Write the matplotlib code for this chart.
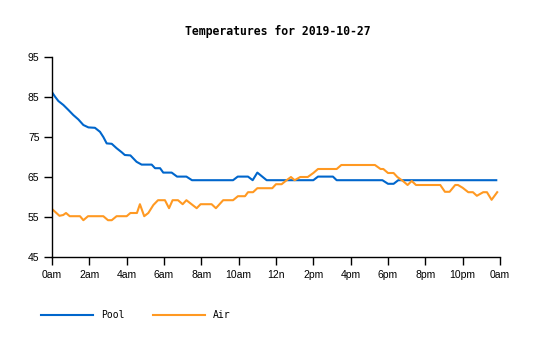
import matplotlib
matplotlib.use("Agg")
import matplotlib.pyplot as plt

# readings, hours after midnight
pool_hours = [0, 0.16, 0.34, 0.61, 0.87, 1.14, 1.41, 1.68, 1.95, 2.3, 2.57, 2.75, 2.93, 3.2, 3.46,
              3.73, 3.9, 4.2, 4.53, 4.8, 5.34, 5.52, 5.79, 5.96, 6.41, 6.7, 7.2, 7.5, 9.7, 9.95,
              10.5, 10.75, 11.0, 11.5, 14.0, 14.25, 15.05, 15.25, 17.7, 18.0, 18.3, 18.55, 23.8]
pool_temps = [86.2, 85.1, 84, 83, 81.8, 80.5, 79.4, 78, 77.4, 77.3, 76.3, 75, 73.4, 73.3, 72.2,
              71.2, 70.5, 70.4, 68.8, 68.1, 68.1, 67.2, 67.2, 66.1, 66.1, 65.1, 65.1, 64.2, 64.2, 65.1,
              65.1, 64.2, 66.1, 64.2, 64.2, 65.1, 65.1, 64.2, 64.2, 63.3, 63.3, 64.2, 64.2]

air_hours = [0, 0.4, 0.6, 0.75, 0.95, 1.5, 1.68, 1.93, 2.75, 3.0, 3.2, 3.46, 4.0, 4.2, 4.55,
             4.71, 4.94, 5.16, 5.43, 5.68, 6.05, 6.27, 6.46, 6.75, 7.0, 7.2, 7.75, 7.96, 8.55, 8.78,
             9.17, 9.7, 9.96, 10.34, 10.5, 10.77, 11.0, 11.8, 12.0, 12.3, 12.57, 12.8, 13.0, 13.3, 13.7,
             14.0, 14.25, 15.25, 15.5, 17.3, 17.6, 17.75, 18.0, 18.3, 18.5, 18.8, 19.05, 19.27, 19.5, 20.8,
             21.05, 21.3, 21.6, 21.75, 22.0, 22.3, 22.55, 22.76, 23.1, 23.3, 23.55, 23.85]
air_temps = [57, 55.3, 55.5, 56, 55.2, 55.2, 54.2, 55.2, 55.2, 54.2, 54.2, 55.2, 55.2, 56, 56,
             58.2, 55.2, 56, 58, 59.2, 59.2, 57.2, 59.2, 59.2, 58.2, 59.2, 57.2, 58.2, 58.2, 57.2,
             59.2, 59.2, 60.2, 60.2, 61.2, 61.2, 62.2, 62.2, 63.2, 63.2, 64.2, 65, 64.2, 65, 65,
             66, 67, 67, 68, 68, 67, 67, 66, 66, 65, 64, 63, 64, 63, 63,
             61.3, 61.3, 63, 63, 62.3, 61.2, 61.2, 60.3, 61.2, 61.2, 59.3, 61.2]

x_ticks = list(range(0, 25, 2))
x_labels = ['0am', '2am', '4am', '6am', '8am', '10am', '12n', '2pm', '4pm', '6pm', '8pm', '10pm', '0am']
y_ticks = [45, 55, 65, 75, 85, 95]

mono = 'DejaVu Sans Mono'
plt.rcParams['font.family'] = 'Liberation Sans'

fig = plt.figure(figsize=(5.35, 3.4), dpi=100)
ax = fig.add_axes([52/535, 1-257/340, 448/535, 200/340])

ax.plot(pool_hours, pool_temps, color='#0066cc', lw=1.5, label='Pool')
ax.plot(air_hours, air_temps, color='#ff9922', lw=1.5, label='Air')

ax.set_xlim(0, 24)
ax.set_ylim(45, 95)
ax.set_xticks(x_ticks)
ax.set_xticklabels(x_labels)
ax.set_yticks(y_ticks)
ax.tick_params(length=6, width=1, labelsize=7.5, pad=3, color='black')
for s in ['top', 'right']:
    ax.spines[s].set_visible(False)
for s in ['left', 'bottom']:
    ax.spines[s].set_linewidth(1)

# title centred over the plot area, not the figure
fig.text(278/535, 1-31/340, 'Temperatures for 2019-10-27', ha='center', va='center',
         family=mono, fontweight='bold', fontsize=8.3)

fig.legend(loc='center left', bbox_to_anchor=(41/535, 1-315/340), ncol=2, frameon=False,
           prop={'family': mono, 'size': 7}, handlelength=5.3, handletextpad=0.9,
           columnspacing=2.9, borderpad=0, borderaxespad=0)

fig.savefig('out.png', dpi=100)
